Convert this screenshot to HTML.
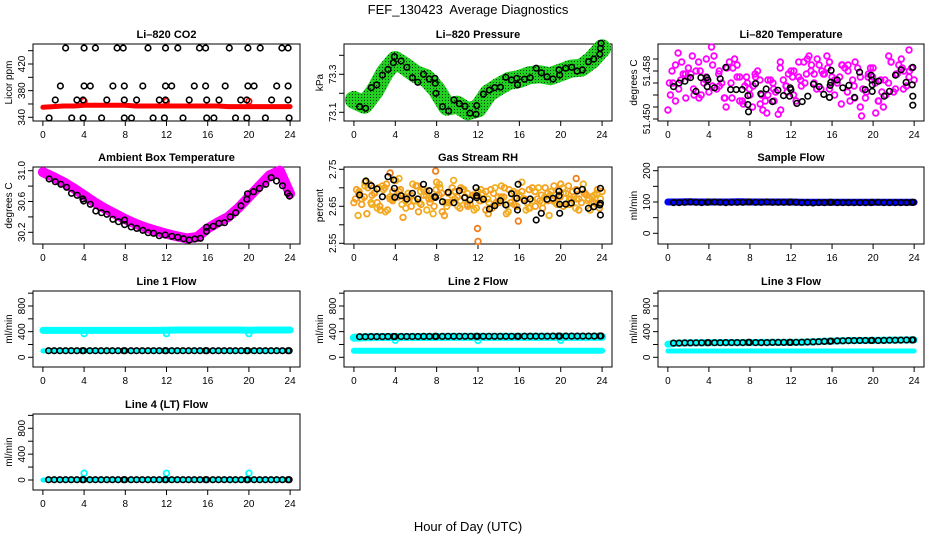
<!DOCTYPE html>
<html><head><meta charset="utf-8"><title>FEF_130423 Average Diagnostics</title>
<style>
html,body{margin:0;padding:0;background:#fff;}
svg{display:block;font-family:"Liberation Sans",Arial,sans-serif;}
</style></head>
<body>
<svg id="chart" width="936" height="540" viewBox="0 0 936 540" xmlns="http://www.w3.org/2000/svg">
<defs>
<pattern id="greenPat" width="3" height="3" patternUnits="userSpaceOnUse">
<rect width="3" height="3" fill="#22d022"/><rect x="1" y="1" width="1" height="1" fill="#0a3a0a"/>
</pattern>
</defs>
<rect width="936" height="540" fill="#fff"/>
<text x="468" y="14" text-anchor="middle" font-size="13" style="white-space:pre">FEF_130423  Average Diagnostics</text>
<text x="468" y="531" text-anchor="middle" font-size="13">Hour of Day (UTC)</text>
</svg>
<script>
// ---------- data ----------
const bandHours = [0,1,2,3,4,5,6,7,8,9,10,11,12,13,14,15,16,17,18,19,20,21,22,23,24];
const flowHours = [0.55,1.1,1.65,2.2,2.75,3.3,3.85,3.95,4.55,5.1,5.65,6.2,6.75,7.3,7.85,7.95,8.55,9.1,9.65,10.2,10.75,11.3,11.85,11.95,12.5,13.05,13.6,14.15,14.7,15.25,15.8,15.9,16.5,17.05,17.6,18.15,18.7,19.25,19.8,19.9,20.5,21.05,21.6,22.15,22.7,23.25,23.8,23.9];

// CO2
const co2Band = [355,356,357,357,358,358,358,358,358,357,357,357,357,357,357,357,357,357,356,356,356,356,356,356,356];
const co2BumpHours = [4,12,20];
const co2BumpVals = [364,364,364];
const co2Hours = [2.2,4.0,5.1,7.2,7.8,10.2,11.9,13.1,15.2,15.8,18.1,19.9,21.1,23.2,23.8,
 1.7,4.0,4.6,6.8,7.9,9.7,11.9,12.5,14.7,15.8,17.7,19.9,20.5,22.7,23.8,
 1.2,3.3,3.9,6.2,7.9,9.1,11.3,11.9,14.2,15.9,17.1,19.2,19.8,22.2,23.8,
 0.6,2.8,3.9,5.7,7.9,8.6,10.7,11.8,13.6,15.9,16.6,18.7,19.8,21.6,23.9];
const co2Vals = [444,444,444,444,444,444,444,444,444,444,444,444,444,444,444,
 387,387,387,387,387,387,387,387,387,387,387,387,387,387,387,
 366,366,366,366,366,366,366,366,366,366,366,366,366,366,366,
 339,339,339,339,339,339,339,339,339,339,339,339,339,339,339];

// Pressure
const presBand = [73.165,73.14,73.21,73.31,73.375,73.34,73.30,73.28,73.22,73.13,73.14,73.105,73.12,73.2,73.235,73.265,73.275,73.296,73.30,73.29,73.31,73.33,73.335,73.375,73.437];
const presHours = [0.55,1.13,1.68,2.2,2.75,3.3,3.82,3.91,4.56,5.11,5.66,6.18,6.73,7.28,7.83,7.86,7.93,8.57,9.16,9.67,10.19,10.74,11.23,11.81,11.87,12.52,13.1,13.62,14.17,14.69,15.24,15.75,15.82,16.5,17.05,17.63,18.12,18.67,19.25,19.83,19.9,20.48,21.06,21.58,22.1,22.68,23.2,23.78,23.84,23.9];
const presVals = [73.1295,73.121,73.23,73.244,73.296,73.326,73.361,73.393,73.37,73.337,73.282,73.258,73.3,73.275,73.279,73.253,73.2,73.13,73.107,73.165,73.145,73.132,73.095,73.09,73.135,73.196,73.217,73.23,73.232,73.284,73.27,73.279,73.244,73.274,73.282,73.332,73.308,73.287,73.275,73.323,73.296,73.332,73.337,73.317,73.323,73.366,73.38,73.405,73.437,73.463];

// Li-820 temperature (magenta offsets in thousandths above 51.450)
const magA = [1.5,6.0,11.0,7.5,8.5,5.0,9.5,6.0,4.5,10.5,8.0,3.5,9.5,10.0,7.0,5.5,4.0,7.5,2.5,3.0,6.5,4.5,1.5,5.5,8.0,3.0,5.5,7.5,9.0,5.0,8.0,10.5,7.0,6.0,9.0,4.5,6.5,8.5,5.0,7.0,8.5,3.0,2.0,6.0,4.5,9.0,8.0,11.5,6.5];
const magB = [4.0,9.0,6.5,3.5,7.5,8.0,4.0,7.0,12.0,5.0,6.0,8.5,3.5,7.0,3.0,6.0,2.0,8.0,1.5,4.0,6.0,0.8,6.5,7.5,4.0,7.0,9.5,10.5,6.0,9.0,7.5,9.5,4.0,7.0,8.5,3.0,9.5,7.0,3.5,8.5,1.0,6.5,4.0,9.5,7.5,10.0,5.5,8.5];
const magC = [8.0,5.0,7.5,10.5,3.5,6.5,9.0,5.5,2.0,8.5,3.0,7.0,5.5,6.5,1.0,5.0,9.5,4.5,8.0,6.5,10.0,7.5,5.0,8.5,6.5,2.5,9.0,3.5,0.5,7.5,6.0,4.5,10.5,5.0,8.5,7.0];
const magD = [6,3,9.5,7,4,8,10,5.5,7.5,3.5,6,9,2.5,5,7,4,6.5,3,8.5,5.5,7,9.5,6,8,10,7.5,5,6.5,9,8,5.5,2,4.5,7,3,6.5,9.5,7.5,5,8];
const liHours = [0.55,1.1,1.66,2.21,2.73,3.22,3.8,3.83,3.9,4.55,5.1,5.65,6.11,6.66,7.24,7.8,7.8,7.86,8.54,9.06,9.58,10.2,10.72,11.27,11.86,11.92,11.99,12.57,13.09,13.64,14.19,14.75,15.2,15.75,15.82,15.88,15.91,16.5,17.05,17.64,18.19,18.68,19.23,19.81,19.88,19.91,19.91,20.53,21.08,21.6,22.18,22.74,23.22,23.81,23.87,23.87,23.87];
const liVals = [51.4554,51.4560,51.4563,51.4569,51.4546,51.4569,51.4569,51.4554,51.4565,51.4552,51.4567,51.4586,51.4549,51.4549,51.4549,51.4539,51.4524,51.4512,51.4559,51.4542,51.4550,51.4529,51.4548,51.4539,51.4538,51.4552,51.4549,51.4526,51.4529,51.4538,51.4558,51.4554,51.4541,51.4536,51.4556,51.4561,51.4581,51.4565,51.4552,51.4556,51.4536,51.4578,51.4549,51.4573,51.4565,51.4557,51.4546,51.4563,51.4538,51.4546,51.4573,51.4582,51.4561,51.4557,51.4538,51.4523,51.4586];

// Ambient box temperature
const ambBand = [30.98,30.92,30.85,30.77,30.68,30.59,30.51,30.44,30.37,30.31,30.26,30.22,30.18,30.15,30.12,30.14,30.25,30.33,30.40,30.52,30.66,30.80,30.94,31.0,30.70];
const ambHours = [0.61,1.2,1.75,2.3,2.78,3.33,3.88,3.95,4.6,5.14,5.69,6.21,6.8,7.34,7.93,7.93,8.57,9.12,9.7,10.22,10.74,11.29,11.87,12.52,13.1,13.65,14.2,14.75,15.3,15.88,15.88,16.53,17.08,17.63,18.18,18.73,19.22,19.8,19.86,20.45,21.03,21.64,22.16,22.68,23.26,23.75,23.94];
const ambVals = [30.892,30.857,30.823,30.784,30.706,30.68,30.632,30.607,30.563,30.477,30.455,30.434,30.369,30.338,30.36,30.30,30.27,30.25,30.226,30.195,30.187,30.156,30.165,30.148,30.135,30.117,30.10,30.113,30.122,30.213,30.265,30.278,30.317,30.325,30.40,30.455,30.545,30.628,30.70,30.727,30.77,30.823,30.91,30.866,30.805,30.706,30.67];

// Gas stream RH (orange offsets in thousandths above 2.600)
const orA = [60,90,75,110,85,50,100,70,120,95,65,80,105,55,90,70,115,85,60,100,75,95,50,80,90,70,30,85,60,75,95,55,80,70,45,90,65,100,80,60,110,85,70,95,60,80,75,55,90];
const orB = [95,70,30,80,60,105,40,90,75,20,85,65,35,95,70,50,80,25,60,90,45,75,55,80,65,40,95,60,75,30,85,50,90,60,100,70,45,85,65,95,50,105,75,40,85,70,60,45];
const orC = [25,115,55,100,35,70,125,45,110,60,80,30,100,50,120,65,85,40,95,70,55,105,35,75,115,45,90,60,25,80,100,55,70,110,40,85];
const orD = [70,55,100,85,40,110,65,90,75,50,105,80,60,95,35,85,70,100,55,80,65,90,45,75,100,60,85,70,95,50,80,65,105,75,55,90,70,85,60,95];
const orE = [85,105,60,45,95,75,120,55,85,65,90,40,75,110,60,80,50,95,70,45,85,60,100,70,55,90,80,40,65,100,75,90,55,85,70,45,95,65,80,70];
const orOutHours = [3.5,7.9,11.95,12.0,15.9,21.5];
const orOutVals = [2.74,2.745,2.59,2.555,2.61,2.725];
const rhHours = [0.55,1.16,1.68,2.23,2.75,3.3,3.85,3.91,3.95,4.56,5.11,5.66,6.18,6.73,7.28,7.83,7.86,7.89,8.57,9.12,9.67,10.19,10.71,11.23,11.81,11.87,11.87,12.52,13.1,13.62,14.17,14.69,15.24,15.75,15.82,15.88,16.5,17.05,17.63,18.12,18.67,19.25,19.83,19.83,19.9,19.9,20.48,21.03,21.58,22.1,22.68,23.2,23.78,23.84,23.84,23.84];
const rhVals = [2.6805,2.7184,2.7057,2.6968,2.676,2.73,2.721,2.6986,2.6743,2.6787,2.6697,2.685,2.6697,2.7094,2.6922,2.676,2.6743,2.6743,2.6624,2.6878,2.6597,2.6922,2.6733,2.667,2.7003,2.6787,2.6733,2.6689,2.6427,2.6516,2.6652,2.6535,2.6841,2.6716,2.64,2.7094,2.6652,2.6697,2.613,2.631,2.6689,2.6716,2.6905,2.6787,2.6554,2.631,2.656,2.6589,2.6914,2.696,2.6446,2.649,2.6535,2.6986,2.658,2.6265];

// Sample flow
const sampleBand = [100,100,101,100,100,100,100,101,100,100,100,100,100,99,99,99,99,99,99,99,99,99,99,99,99];
const sampleBlack = [98,98,99,100,99,98,99,100,100,99,98,99,99,99,100,100,99,99,100,99,99,99,99,100,99,98,98,97,98,98,99,99,98,98,98,98,98,98,98,99,99,98,98,98,98,98,99,99];

// Line flows
const l1Upper = [420,420,420,420,420,420,420,420,420,420,420,420,422,425,425,425,425,425,425,425,423,425,425,425,425];
const l1Lower = [100,100,100,100,100,100,100,100,100,100,100,100,100,100,100,100,100,100,100,100,100,100,100,100,100];
const l1DipHours = [4,12,20];
const l1DipVals = [370,370,370];
const l1Black = [103,103,103,103,103,103,103,103,103,103,103,103,103,103,103,103,103,103,103,103,103,103,103,103,103,103,103,103,103,103,103,103,103,103,103,103,103,103,103,103,103,103,103,103,103,103,103,103];
const l2Upper = [305,312,315,316,316,317,317,317,317,318,318,318,318,318,318,318,318,318,318,318,318,318,318,318,318];
const l2Lower = [103,103,103,103,103,103,103,103,103,103,103,103,103,103,103,103,103,103,103,103,103,103,103,103,103];
const l2DipHours = [4,12,20];
const l2DipVals = [265,262,265];
const l2Black = [322,322,323,323,323,324,324,324,325,325,325,325,326,326,326,326,326,327,327,327,327,327,327,327,328,328,328,328,328,328,328,328,329,329,329,329,329,330,330,330,330,330,330,331,331,331,332,332];
const l3Upper = [205,222,224,226,228,230,230,230,230,232,232,232,232,236,240,248,252,258,262,262,264,266,268,270,272];
const l3Lower = [98,98,98,98,98,98,98,98,98,98,98,98,98,98,98,98,98,98,98,98,98,98,98,98,98];
const l3Black = [222,222,224,224,226,226,228,228,228,228,230,230,230,230,232,232,230,230,230,232,232,232,232,232,234,236,238,240,244,248,250,252,256,258,260,260,262,262,262,264,262,264,266,266,268,270,270,272];
const l4Cyan = [0,2,2,2,2,2,2,2,2,2,2,2,2,2,2,2,2,2,2,2,2,2,2,2,2];
const l4SpikeHours = [4,12,20];
const l4SpikeVals = [105,105,105];
const l4Black = [5,5,5,5,5,5,5,5,5,5,5,5,5,5,5,5,5,5,5,5,5,5,5,5,5,5,5,5,5,5,5,5,5,5,5,5,5,5,5,5,5,5,5,5,5,5,5,5];

const xTicks = [0,4,8,12,16,20,24];

// ---------- drawing ----------
const NS = "http://www.w3.org/2000/svg";
const svg = document.getElementById("chart");
const cols = [[33,300],[344,612],[658,924]];
const rows = [[44,121],[167,244],[291,367],[414,490]];

function mk(tag, attrs, parent){
  const el = document.createElementNS(NS, tag);
  for (const k in attrs) el.setAttribute(k, attrs[k]);
  parent.appendChild(el);
  return el;
}
function xs(c, h){ const a = cols[c][0], b = cols[c][1]; return a + (h + 0.96) / 25.92 * (b - a); }
function mkY(v1, p1, v2, p2){ return v => p1 + (v - v1) * (p2 - p1) / (v2 - v1); }

function frame(c, r, title, ylab, ticks, labels, yF, pname){
  const g = mk("g", {}, svg);
  
  
  const x0 = cols[c][0], x1 = cols[c][1], y0 = rows[r][0], y1 = rows[r][1];
  const box = mk("rect", {x:x0, y:y0, width:x1-x0, height:y1-y0, fill:"none", stroke:"#000", "stroke-width":1}, g);
  
  
  const t = mk("text", {x:(x0+x1)/2, y:y0-6, "text-anchor":"middle", "font-size":11, "font-weight":"bold"}, g);
  t.textContent = title;
  
  
  const xa = mk("g", {}, g);
  
  
  mk("line", {x1:xs(c,xTicks[0]), x2:xs(c,xTicks[xTicks.length-1]), y1:y1, y2:y1, stroke:"#000"}, xa);
  xTicks.forEach(h => {
    const X = xs(c, h);
    mk("line", {x1:X, x2:X, y1:y1, y2:y1+5, stroke:"#000"}, xa);
    const tl = mk("text", {x:X, y:y1+17, "text-anchor":"middle", "font-size":10}, xa);
    tl.textContent = h;
    
    
  });
  const ya = mk("g", {}, g);
  
  
  mk("line", {x1:x0, x2:x0, y1:yF(ticks[0]), y2:yF(ticks[ticks.length-1]), stroke:"#000"}, ya);
  ticks.forEach(v => {
    const Y = yF(v);
    mk("line", {x1:x0-5, x2:x0, y1:Y, y2:Y, stroke:"#000"}, ya);
  });
  labels.forEach(l => {
    const Y = yF(l[0]);
    const tl = mk("text", {x:0, y:0, "text-anchor":"middle", "font-size":10, transform:"translate("+(x0-8)+","+Y+") rotate(-90)"}, ya);
    tl.textContent = l[1];
    
    
  });
  const yl = mk("text", {x:0, y:0, "text-anchor":"middle", "font-size":10, transform:"translate("+(x0-21)+","+((y0+y1)/2)+") rotate(-90)"}, g);
  yl.textContent = ylab;
  
  
  return g;
}

function band(g, c, yF, hours, vals, color, w, nm){
  const p = hours.map((h, i) => xs(c, h).toFixed(1) + "," + yF(vals[i]).toFixed(1)).join(" ");
  const el = mk("polyline", {points:p, fill:"none", stroke:color, "stroke-width":w, "stroke-linecap":"round", "stroke-linejoin":"round"}, g);
  
  
}
function pts(g, c, yF, hours, vals, color, r, sw, nm){
  const sg = mk("g", {}, g);
  
  
  hours.forEach((h, i) => {
    const el = mk("circle", {cx:xs(c,h).toFixed(1), cy:yF(vals[i]).toFixed(1), r:r, fill:"none", stroke:color, "stroke-width":sw}, sg);
    
    
  });
}
const halfHours = magA.map((_, i) => i * 0.5);
const quarterHours = magB.map((_, i) => 0.25 + i * 0.5);
const thirdHours = magC.map((_, i) => 0.4 + i * 0.66);
const sixHoursA = magD.map((_, i) => 0.15 + i * 0.6);
const sixHoursB = orE.map((_, i) => 0.45 + i * 0.6);

// Panel 1: CO2
let y = mkY(340,117.3,420,64);
let g = frame(0,0,"Li\u2013820 CO2","Licor ppm",[340,360,380,400,420,440],[[340,"340"],[380,"380"],[420,"420"]],y,"panel-co2");
band(g,0,y,bandHours,co2Band,"#ff0000",5,"co2-red-band");
pts(g,0,y,co2BumpHours,co2BumpVals,"#ff0000",2.8,1.6,"co2-red-points");
pts(g,0,y,co2Hours,co2Vals,"#000",2.8,1.6,"co2-hourly-points");

// Panel 2: Pressure
y = mkY(73.1,112.3,73.3,74.3);
g = frame(1,0,"Li\u2013820 Pressure","kPa",[73.1,73.2,73.3,73.4],[[73.1,"73.1"],[73.3,"73.3"]],y,"panel-pressure");
band(g,1,y,bandHours,presBand,"url(#greenPat)",18,"pressure-green-band");
pts(g,1,y,presHours,presVals,"#000",2.8,1.6,"pressure-hourly-points");

// Panel 3: Li-820 temperature
y = mkY(51.450,119,51.458,71);
g = frame(2,0,"Li\u2013820 Temperature","degrees C",[51.450,51.452,51.454,51.456,51.458,51.460],[[51.450,"51.450"],[51.458,"51.458"]],y,"panel-li-temperature");
pts(g,2,y,halfHours,magA.map(o => 51.45 + o/1000),"#ff00ff",2.8,1.8,"li-temp-magenta-a");
pts(g,2,y,quarterHours,magB.map(o => 51.45 + o/1000),"#ff00ff",2.8,1.8,"li-temp-magenta-b");
pts(g,2,y,thirdHours,magC.map(o => 51.45 + o/1000),"#ff00ff",2.8,1.8,"li-temp-magenta-c");
pts(g,2,y,sixHoursA,magD.map(o => 51.45 + o/1000),"#ff00ff",2.8,1.8,"li-temp-magenta-d");
pts(g,2,y,liHours,liVals,"#000",2.8,1.6,"li-temp-hourly-points");

// Panel 4: Ambient box temperature
y = mkY(31.0,170.7,30.2,232.3);
g = frame(0,1,"Ambient Box Temperature","degrees C",[30.2,30.4,30.6,30.8,31.0],[[30.2,"30.2"],[30.6,"30.6"],[31.0,"31.0"]],y,"panel-ambient-temp");
band(g,0,y,bandHours,ambBand,"#ff00ff",10,"ambient-magenta-band");
pts(g,0,y,ambHours,ambVals,"#000",2.8,1.6,"ambient-hourly-points");

// Panel 5: Gas stream RH
y = mkY(2.75,169.3,2.55,243.3);
g = frame(1,1,"Gas Stream RH","percent",[2.55,2.60,2.65,2.70,2.75],[[2.55,"2.55"],[2.65,"2.65"],[2.75,"2.75"]],y,"panel-rh");
pts(g,1,y,halfHours,orA.map(o => 2.6 + o/1000),"#f5a020",2.8,1.8,"rh-orange-a");
pts(g,1,y,quarterHours,orB.map(o => 2.6 + o/1000),"#f5a020",2.8,1.8,"rh-orange-b");
pts(g,1,y,thirdHours,orC.map(o => 2.6 + o/1000),"#f0b020",2.8,1.8,"rh-orange-c");
pts(g,1,y,sixHoursA,orD.map(o => 2.6 + o/1000),"#f5a020",2.8,1.8,"rh-orange-d");
pts(g,1,y,sixHoursB,orE.map(o => 2.6 + o/1000),"#f0b020",2.8,1.8,"rh-orange-e");
pts(g,1,y,orOutHours,orOutVals,"#f08020",2.8,1.8,"rh-orange-outliers");
pts(g,1,y,rhHours,rhVals,"#000",2.8,1.6,"rh-hourly-points");

// Panel 6: Sample flow
y = mkY(0,233.3,200,170.7);
g = frame(2,1,"Sample Flow","ml/min",[0,50,100,150,200],[[0,"0"],[100,"100"],[200,"200"]],y,"panel-sample-flow");
band(g,2,y,bandHours,sampleBand,"#0000ff",7,"sample-blue-band");
pts(g,2,y,flowHours,sampleBlack,"#000",2.8,1.6,"sample-hourly-points");

const flowTicks = [0,200,400,600,800,1000];
const flowLabels = [[0,"0"],[400,"400"],[800,"800"]];

// Panel 7: Line 1
y = mkY(0,357.3,800,306);
g = frame(0,2,"Line 1 Flow","ml/min",flowTicks,flowLabels,y,"panel-line1-flow");
band(g,0,y,bandHours,l1Upper,"#00ffff",7,"line1-cyan-upper");
band(g,0,y,bandHours,l1Lower,"#00ffff",5,"line1-cyan-lower");
pts(g,0,y,l1DipHours,l1DipVals,"#00ffff",2.8,1.8,"line1-cyan-dips");
pts(g,0,y,flowHours,l1Black,"#000",2.8,1.6,"line1-hourly-points");

// Panel 8: Line 2
g = frame(1,2,"Line 2 Flow","ml/min",flowTicks,flowLabels,y,"panel-line2-flow");
band(g,1,y,bandHours,l2Upper,"#00ffff",8,"line2-cyan-upper");
band(g,1,y,bandHours,l2Lower,"#00ffff",6,"line2-cyan-lower");
pts(g,1,y,l2DipHours,l2DipVals,"#00ffff",2.8,1.8,"line2-cyan-dips");
pts(g,1,y,flowHours,l2Black,"#000",2.8,1.6,"line2-hourly-points");

// Panel 9: Line 3
g = frame(2,2,"Line 3 Flow","ml/min",flowTicks,flowLabels,y,"panel-line3-flow");
band(g,2,y,bandHours,l3Upper,"#00ffff",7,"line3-cyan-upper");
band(g,2,y,bandHours,l3Lower,"#00ffff",5,"line3-cyan-lower");
pts(g,2,y,flowHours,l3Black,"#000",2.8,1.6,"line3-hourly-points");

// Panel 10: Line 4
y = mkY(0,480,800,428.3);
g = frame(0,3,"Line 4 (LT) Flow","ml/min",flowTicks,flowLabels,y,"panel-line4-flow");
band(g,0,y,bandHours,l4Cyan,"#00ffff",5,"line4-cyan-band");
pts(g,0,y,l4SpikeHours,l4SpikeVals,"#00ffff",2.8,1.8,"line4-cyan-spikes");
pts(g,0,y,flowHours,l4Black,"#000",2.8,1.6,"line4-hourly-points");
</script>
</body></html>
